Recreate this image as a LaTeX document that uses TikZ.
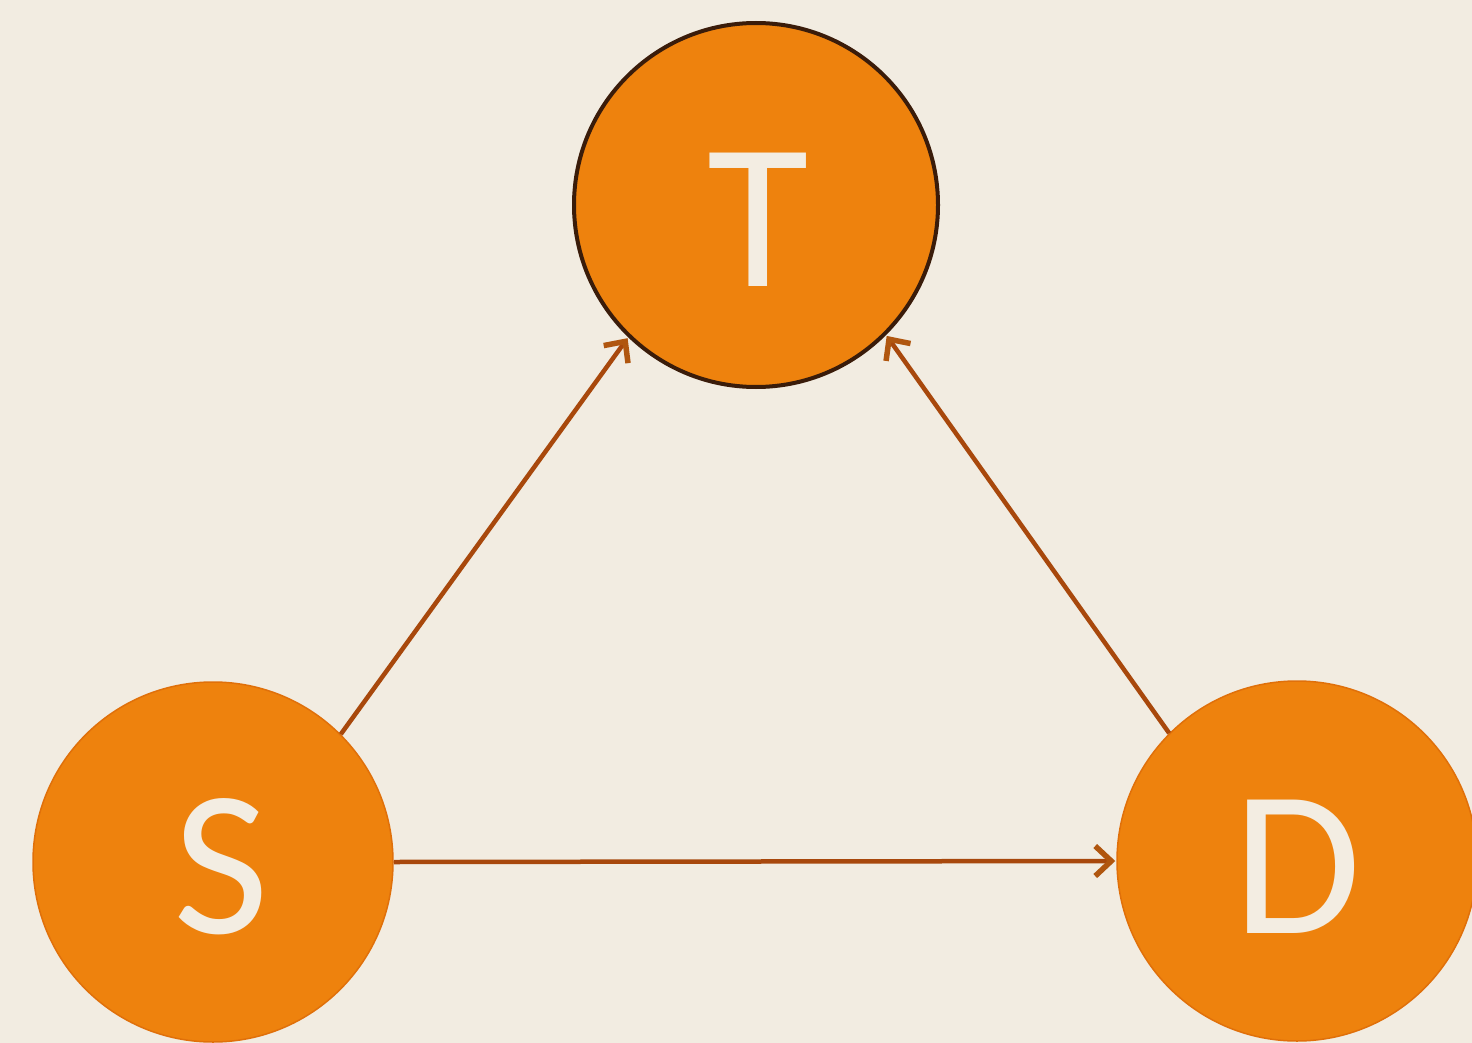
\documentclass[tikz,border=0pt]{standalone}
\usepackage{fontspec}
\setmainfont{Carlito}
\usetikzlibrary{arrows.meta}
\definecolor{bgc}{HTML}{F2ECE1}
\definecolor{orng}{HTML}{EE820D}
\definecolor{orngdk}{HTML}{E0700A}
\definecolor{edgec}{HTML}{A8480C}
\definecolor{tipc}{HTML}{B0560F}
\definecolor{ringc}{HTML}{3A1C0A}
\definecolor{txtc}{HTML}{F3EDE2}
% #1 letter, #2 downward shift (pt): a strut makes the box taller so the glyph sits lower
\newcommand{\lowered}[2]{\rule{0pt}{\dimexpr 132pt+2\dimexpr #2pt\relax\relax}#1}
\tikzset{
  vnode/.style={circle, fill=orng, draw=orngdk, line width=1.5pt, minimum size=360pt, inner sep=0pt,
    text=txtc, font=\fontsize{208}{240}\selectfont},
  vring/.style={draw=ringc, line width=4pt},
  link/.style={draw=edgec, line width=4.5pt,
    -{Straight Barb[length=16pt, width=30pt, line width=5.5pt, color=tipc]}, shorten >=1pt},
}
\begin{document}
\begin{tikzpicture}[x=1pt,y=-1pt]
  \fill[bgc] (0,0) rectangle (1472,1043);
  \useasboundingbox (0,0) rectangle (1472,1043);
  \clip (0,0) rectangle (1472,1043);
  \node[vnode, vring, minimum size=364pt] (T) at (756,205) {\kern4pt\lowered{T}{15}};
  \node[vnode] (S) at (213,862) {\kern17pt\lowered{S}{6}};
  \node[vnode] (D) at (1297,861) {\lowered{D}{6}};
  \draw[link] (S.45) -- (T.226);
  \draw[link] (D.135) -- (T.-45);
  \draw[link] (S.0) -- (D.180);
\end{tikzpicture}
\end{document}
